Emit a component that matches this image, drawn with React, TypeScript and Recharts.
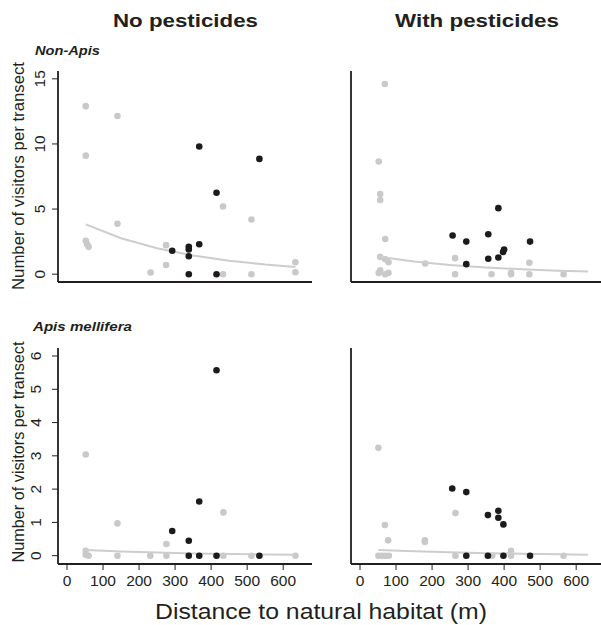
import { Scatter, ScatterChart, XAxis, YAxis } from "recharts";

const FONT = "'Liberation Sans', Arial, Helvetica, sans-serif";
const LIGHT = "#c9c9c9";
const DARK = "#1c1a1b";
const AXIS = "#231f20";

const xTicks = [0, 100, 200, 300, 400, 500, 600];
const nonApisTicks = [0, 5, 10, 15];
const apisTicks = [0, 1, 2, 3, 4, 5, 6];

// Non-Apis, no pesticides
const nonApisNoLight = [
  { x: 52, y: 12.9 }, { x: 140, y: 12.15 }, { x: 52, y: 9.1 }, { x: 140, y: 3.87 },
  { x: 52, y: 2.56 }, { x: 56, y: 2.3 }, { x: 60, y: 2.1 }, { x: 232, y: 0.13 },
  { x: 275, y: 0.7 }, { x: 275, y: 2.23 }, { x: 433, y: 5.2 }, { x: 512, y: 4.2 },
  { x: 433, y: 0 }, { x: 512, y: 0 }, { x: 634, y: 0.92 }, { x: 634, y: 0.15 },
];
const nonApisNoDark = [
  { x: 292, y: 1.8 }, { x: 338, y: 2.1 }, { x: 338, y: 1.9 }, { x: 338, y: 1.38 },
  { x: 338, y: 0 }, { x: 367, y: 9.8 }, { x: 367, y: 2.3 }, { x: 415, y: 6.25 },
  { x: 415, y: 0 }, { x: 534, y: 8.85 },
];
const nonApisNoFit = [
  { x: 52, y: 3.82 }, { x: 150, y: 2.76 }, { x: 250, y: 1.99 }, { x: 350, y: 1.43 },
  { x: 450, y: 1.03 }, { x: 550, y: 0.74 }, { x: 634, y: 0.56 },
];

// Non-Apis, with pesticides
const nonApisWithLight = [
  { x: 69, y: 14.6 }, { x: 52, y: 8.65 }, { x: 56, y: 6.15 }, { x: 56, y: 5.7 },
  { x: 70, y: 2.7 }, { x: 56, y: 1.33 }, { x: 70, y: 1.15 }, { x: 79, y: 0.92 },
  { x: 52, y: 0.1 }, { x: 56, y: 0.3 }, { x: 70, y: 0 }, { x: 79, y: 0.1 },
  { x: 181, y: 0.82 }, { x: 264, y: 1.23 }, { x: 264, y: 0 }, { x: 365, y: 0 },
  { x: 419, y: 0 }, { x: 419, y: 0.1 }, { x: 470, y: 0.87 }, { x: 470, y: 0 },
  { x: 565, y: 0 },
];
const nonApisWithDark = [
  { x: 257, y: 2.97 }, { x: 295, y: 2.5 }, { x: 356, y: 3.07 }, { x: 384, y: 5.07 },
  { x: 356, y: 1.18 }, { x: 384, y: 1.28 }, { x: 397, y: 1.7 }, { x: 400, y: 1.9 },
  { x: 472, y: 2.5 }, { x: 295, y: 0.77 },
];
const nonApisWithFit = [
  { x: 52, y: 1.33 }, { x: 150, y: 0.97 }, { x: 250, y: 0.71 }, { x: 350, y: 0.52 },
  { x: 450, y: 0.37 }, { x: 550, y: 0.27 }, { x: 633, y: 0.21 },
];

// Apis mellifera, no pesticides
const apisNoLight = [
  { x: 52, y: 3.04 }, { x: 140, y: 0.97 }, { x: 276, y: 0.35 }, { x: 434, y: 1.3 },
  { x: 52, y: 0.15 }, { x: 52, y: 0.03 }, { x: 60, y: 0 }, { x: 140, y: 0 },
  { x: 231, y: 0 }, { x: 276, y: 0 }, { x: 434, y: 0 }, { x: 512, y: 0 },
  { x: 634, y: 0 },
];
const apisNoDark = [
  { x: 415, y: 5.57 }, { x: 367, y: 1.63 }, { x: 292, y: 0.74 }, { x: 338, y: 0.45 },
  { x: 338, y: 0 }, { x: 367, y: 0 }, { x: 415, y: 0 }, { x: 534, y: 0 },
];
const apisNoFit = [
  { x: 52, y: 0.17 }, { x: 150, y: 0.125 }, { x: 250, y: 0.092 }, { x: 350, y: 0.067 },
  { x: 450, y: 0.049 }, { x: 550, y: 0.036 }, { x: 634, y: 0.028 },
];

// Apis mellifera, with pesticides
const apisWithLight = [
  { x: 51, y: 3.24 }, { x: 69, y: 0.92 }, { x: 78, y: 0.46 }, { x: 180, y: 0.46 },
  { x: 180, y: 0.41 }, { x: 265, y: 1.28 }, { x: 51, y: 0 }, { x: 60, y: 0 },
  { x: 70, y: 0 }, { x: 80, y: 0 }, { x: 265, y: 0 }, { x: 367, y: 0 },
  { x: 419, y: 0.15 }, { x: 419, y: 0 }, { x: 565, y: 0 },
];
const apisWithDark = [
  { x: 256, y: 2.02 }, { x: 295, y: 1.91 }, { x: 355, y: 1.22 }, { x: 384, y: 1.35 },
  { x: 384, y: 1.14 }, { x: 398, y: 0.94 }, { x: 295, y: 0 }, { x: 355, y: 0 },
  { x: 398, y: 0 }, { x: 472, y: 0 },
];
const apisWithFit = [
  { x: 51, y: 0.17 }, { x: 150, y: 0.13 }, { x: 250, y: 0.1 }, { x: 350, y: 0.075 },
  { x: 450, y: 0.055 }, { x: 550, y: 0.04 }, { x: 633, y: 0.03 },
];

const W = 620;
const H = 625;
const AX = 30;

const XTick = (p: any) => (
  <text x={p.x} y={p.y} dy="0.71em" textAnchor="middle" fontSize={15.5} fontFamily={FONT} fill={AXIS}>
    {p.payload.value}
  </text>
);

const YTick = (p: any) => (
  <text
    x={p.x}
    y={p.y}
    transform={`rotate(-90, ${p.x}, ${p.y})`}
    textAnchor="middle"
    fontSize={15.5}
    fontFamily={FONT}
    fill={AXIS}
  >
    {p.payload.value}
  </text>
);

const dot = (fill: string) => (p: any) => <circle cx={p.cx} cy={p.cy} r={3.3} fill={fill} />;

type PanelProps = {
  plot: { left: number; right: number; top: number; bottom: number };
  yDomain: number[];
  yTicks: number[];
  light: { x: number; y: number }[];
  dark: { x: number; y: number }[];
  fit: { x: number; y: number }[];
  showX: boolean;
  showY: boolean;
  yTickMargin: number;
};

const Panel = ({ plot, yDomain, yTicks, light, dark, fit, showX, showY, yTickMargin }: PanelProps) => {
  const margin = {
    top: plot.top,
    left: plot.left - AX,
    right: W - plot.right,
    bottom: H - plot.bottom - AX,
  };
  return (
    <div style={{ position: "absolute", left: 0, top: 0 }}>
      <ScatterChart width={W} height={H} margin={margin}>
        <XAxis
          type="number"
          dataKey="x"
          domain={[-25, 680]}
          ticks={xTicks}
          interval={0}
          height={AX}
          axisLine={{ stroke: AXIS, strokeWidth: 1.8 }}
          tickLine={showX ? { stroke: AXIS, strokeWidth: 1 } : false}
          tick={showX ? XTick : false}
          tickSize={6}
          tickMargin={5}
        />
        <YAxis
          type="number"
          dataKey="y"
          domain={yDomain}
          ticks={yTicks}
          interval={0}
          width={AX}
          axisLine={{ stroke: AXIS, strokeWidth: 1.8 }}
          tickLine={showY ? { stroke: AXIS, strokeWidth: 1 } : false}
          tick={showY ? YTick : false}
          tickSize={6}
          tickMargin={yTickMargin}
        />
        <Scatter data={light} shape={dot(LIGHT)} isAnimationActive={false} />
        <Scatter
          data={fit}
          line={{ stroke: "#cdcdcd", strokeWidth: 2 }}
          lineType="joint"
          shape={() => <g />}
          isAnimationActive={false}
        />
        <Scatter data={dark} shape={dot(DARK)} isAnimationActive={false} />
      </ScatterChart>
    </div>
  );
};

const topPlot = { top: 71, bottom: 282 };
const botPlot = { top: 348, bottom: 564 };
const leftCol = { left: 58, right: 312 };
const rightCol = { left: 351, right: 605 };

export default function App() {
  return (
    <div
      style={{
        position: "absolute",
        left: 0,
        top: 0,
        width: 601,
        height: 625,
        overflow: "hidden",
        background: "#fff",
      }}
    >
      <Panel
        plot={{ ...topPlot, ...leftCol }}
        yDomain={[-0.6, 15.6]}
        yTicks={nonApisTicks}
        light={nonApisNoLight}
        dark={nonApisNoDark}
        fit={nonApisNoFit}
        showX={false}
        showY={true}
        yTickMargin={7}
      />
      <Panel
        plot={{ ...topPlot, ...rightCol }}
        yDomain={[-0.6, 15.6]}
        yTicks={nonApisTicks}
        light={nonApisWithLight}
        dark={nonApisWithDark}
        fit={nonApisWithFit}
        showX={false}
        showY={false}
        yTickMargin={7}
      />
      <Panel
        plot={{ ...botPlot, ...leftCol }}
        yDomain={[-0.25, 6.24]}
        yTicks={apisTicks}
        light={apisNoLight}
        dark={apisNoDark}
        fit={apisNoFit}
        showX={true}
        showY={true}
        yTickMargin={11}
      />
      <Panel
        plot={{ ...botPlot, ...rightCol }}
        yDomain={[-0.25, 6.24]}
        yTicks={apisTicks}
        light={apisWithLight}
        dark={apisWithDark}
        fit={apisWithFit}
        showX={true}
        showY={false}
        yTickMargin={11}
      />
      <svg
        width={601}
        height={625}
        style={{ position: "absolute", left: 0, top: 0, pointerEvents: "none" }}
        fontFamily={FONT}
        fill={AXIS}
      >
        <text x={185.5} y={26.5} textAnchor="middle" fontSize={18} fontWeight="bold" textLength={145} lengthAdjust="spacingAndGlyphs">
          No pesticides
        </text>
        <text x={477} y={26.5} textAnchor="middle" fontSize={18} fontWeight="bold" textLength={164} lengthAdjust="spacingAndGlyphs">
          With pesticides
        </text>
        <text x={35} y={54.5} fontSize={13.5} fontWeight="bold" fontStyle="italic" textLength={65} lengthAdjust="spacingAndGlyphs">
          Non-Apis
        </text>
        <text x={33} y={331} fontSize={13.5} fontWeight="bold" fontStyle="italic" textLength={99} lengthAdjust="spacingAndGlyphs">
          Apis mellifera
        </text>
        <text x={24} y={176} transform="rotate(-90, 24, 176)" textAnchor="middle" fontSize={16.5} textLength={228} lengthAdjust="spacingAndGlyphs">
          Number of visitors per transect
        </text>
        <text x={24} y={452} transform="rotate(-90, 24, 452)" textAnchor="middle" fontSize={16.5} textLength={221} lengthAdjust="spacingAndGlyphs">
          Number of visitors per transect
        </text>
        <text x={321} y={619} textAnchor="middle" fontSize={22} textLength={332} lengthAdjust="spacingAndGlyphs">
          Distance to natural habitat (m)
        </text>
      </svg>
    </div>
  );
}
